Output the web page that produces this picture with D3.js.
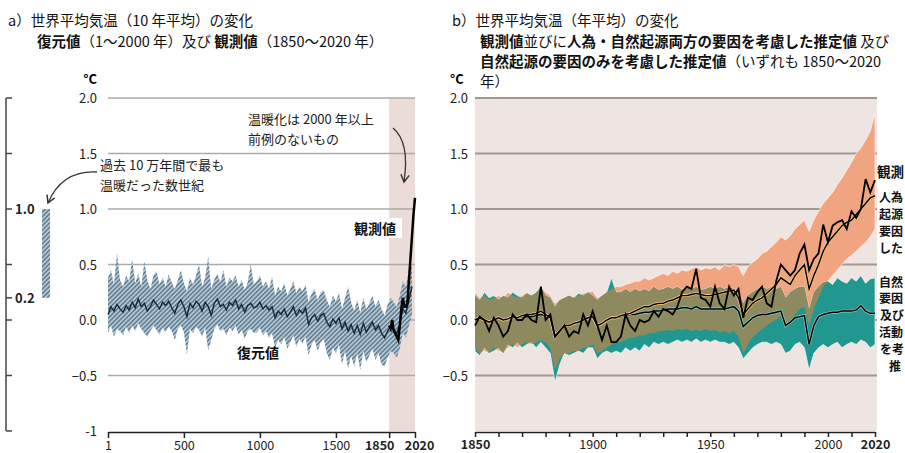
<!DOCTYPE html>
<meta charset="utf-8">
<head>
<title>世界平均気温の変化</title>
<script src="https://d3js.org/d3.v7.min.js"></script>
<style>
    body { margin: 0; background: #ffffff; }
    svg { font-family: "Noto Sans CJK JP", "Noto Sans", sans-serif; }
    .tick text { font-size: 12.5px; fill: #222; font-family: "Noto Sans CJK JP", "Noto Sans", sans-serif; }
    .tick line, .domain { stroke: #222; }
</style>
</head>
<body>
<svg id="chart" width="905" height="453"></svg>
<script>
// ---- a) 復元値 (20 年ごと, 1〜2000 年) ----
var reconYears = d3.range(0, 2001, 20).map(function(d){ return Math.max(d, 1) })
var reconMid = [
    0.05, 0.12, 0.08, 0.14, 0.10, 0.07, 0.13, 0.09, 0.16, 0.11,
    0.19, 0.12, 0.15, 0.08, 0.12, 0.18, 0.14, 0.10, 0.16, 0.13,
    0.17, 0.11, 0.06, 0.14, 0.18, 0.12, 0.03, 0.15, 0.11, 0.17,
    0.14, 0.08, 0.16, 0.12, 0.04, 0.15, 0.19, 0.12, 0.14, 0.09,
    0.16, 0.13, 0.18, 0.10, 0.14, 0.07, 0.13, 0.15, 0.11, 0.12,
    0.16, 0.10, 0.13, 0.09, 0.12, 0.02, 0.08, 0.05, 0.10, 0.03,
    0.07, 0.12, 0.04, 0.09, 0.06, 0.11, -0.04, 0.02, 0.05, -0.01,
    0.04, 0.06, -0.02, -0.06, 0.01, -0.03, 0.02, -0.08, -0.02, -0.10,
    -0.04, -0.12, -0.05, -0.13, -0.03, -0.11, -0.06, -0.02, -0.09, -0.05,
    -0.12, -0.16, -0.10, -0.06, -0.08, -0.12, -0.04, 0.10, 0.06, 0.18,
    0.30]
var reconHigh = [
    0.38, 0.45, 0.32, 0.60, 0.36, 0.30, 0.40, 0.35, 0.55, 0.33,
    0.42, 0.30, 0.53, 0.36, 0.28, 0.40, 0.44, 0.32, 0.38, 0.30,
    0.41, 0.34, 0.28, 0.36, 0.45, 0.33, 0.26, 0.38, 0.32, 0.40,
    0.50, 0.30, 0.38, 0.57, 0.28, 0.36, 0.42, 0.34, 0.45, 0.30,
    0.38, 0.35, 0.40, 0.30, 0.36, 0.27, 0.34, 0.50, 0.32, 0.35,
    0.40, 0.30, 0.35, 0.28, 0.39, 0.22, 0.30, 0.26, 0.33, 0.22,
    0.28, 0.35, 0.24, 0.30, 0.26, 0.32, 0.16, 0.24, 0.28, 0.18,
    0.25, 0.27, 0.18, 0.12, 0.22, 0.17, 0.24, 0.10, 0.20, 0.30,
    0.16, 0.08, 0.18, 0.06, 0.20, 0.10, 0.15, 0.22, 0.12, 0.18,
    0.10, 0.04, 0.14, 0.20, 0.16, 0.12, 0.22, 0.35, 0.30, 0.45,
    0.50]
var reconLow = [
    -0.12, -0.05, -0.15, -0.08, -0.10, -0.14, -0.06, -0.12, -0.05, -0.10,
    -0.03, -0.08, -0.12, -0.15, -0.10, -0.05, -0.09, -0.13, -0.07, -0.11,
    -0.06, -0.10, -0.18, -0.08, -0.05, -0.11, -0.31, -0.08, -0.12, -0.06,
    -0.09, -0.15, -0.07, -0.27, -0.18, -0.08, -0.04, -0.10, -0.08, -0.14,
    -0.07, -0.10, -0.05, -0.13, -0.09, -0.17, -0.10, -0.08, -0.12, -0.11,
    -0.07, -0.14, -0.10, -0.16, -0.12, -0.25, -0.18, -0.22, -0.15, -0.26,
    -0.20, -0.14, -0.24, -0.17, -0.21, -0.15, -0.32, -0.22, -0.18, -0.28,
    -0.20, -0.17, -0.30, -0.36, -0.25, -0.30, -0.22, -0.40, -0.28, -0.44,
    -0.32, -0.42, -0.30, -0.45, -0.28, -0.38, -0.32, -0.26, -0.36, -0.30,
    -0.40, -0.42, -0.34, -0.28, -0.30, -0.34, -0.26, -0.12, -0.16, -0.05,
    0.05]
// 観測値 (10 年平均)
var obsDecYears = d3.range(1850, 2021, 10)
var obsDec = [-0.05, -0.08, 0.00, -0.10, -0.12, -0.15, -0.18, -0.05, 0.10, 0.20,
              0.12, 0.12, 0.15, 0.35, 0.55, 0.75, 0.95, 1.10]

// ---- b) 年平均 (2 年ごと, 1850〜2020 年) ----
var annYears = d3.range(1850, 2021, 2)
var obsAnn = [
    -0.05, 0.03, 0.00, -0.10, 0.02, -0.05, -0.15, -0.10, 0.05, 0.00,
    0.00, 0.05, 0.00, -0.02, 0.30, 0.00, 0.05, -0.15, -0.10, -0.05,
    -0.15, -0.10, -0.12, 0.05, -0.05, 0.08, -0.05, -0.18, -0.05, -0.20,
    -0.20, -0.15, 0.05, -0.05, -0.10, 0.00, -0.02, 0.00, 0.08, 0.03,
    0.10, 0.08, 0.05, 0.12, 0.25, 0.30, 0.28, 0.46, 0.20, 0.18,
    0.12, 0.30, 0.15, 0.10, 0.30, 0.22, 0.28, 0.02, 0.20, 0.18,
    0.25, 0.30, 0.15, 0.12, 0.35, 0.50, 0.45, 0.40, 0.45, 0.60,
    0.68, 0.45, 0.55, 0.60, 0.86, 0.70, 0.85, 0.88, 0.90, 0.82,
    0.98, 0.92, 1.00, 1.27, 1.15, 1.26]
var bothMid = [
    0.00, 0.02, 0.00, -0.02, 0.00, 0.02, 0.00, 0.01, 0.03, 0.02,
    0.04, 0.05, 0.05, 0.06, 0.08, 0.05, 0.02, -0.15, -0.10, -0.05,
    -0.05, -0.03, -0.02, 0.00, 0.02, 0.03, -0.05, -0.03, 0.00, 0.02,
    0.02, 0.04, 0.05, 0.06, 0.08, 0.10, 0.12, 0.12, 0.14, 0.15,
    0.15, 0.17, 0.18, 0.20, 0.22, 0.22, 0.23, 0.24, 0.23, 0.22,
    0.22, 0.23, 0.24, 0.25, 0.26, 0.27, 0.20, 0.05, 0.10, 0.15,
    0.18, 0.20, 0.24, 0.28, 0.32, 0.38, 0.35, 0.32, 0.40, 0.45,
    0.50, 0.28, 0.40, 0.50, 0.62, 0.70, 0.75, 0.80, 0.85, 0.88,
    0.90, 0.95, 1.00, 1.05, 1.10, 1.12]
var bothHigh = [
    0.25, 0.20, 0.22, 0.18, 0.20, 0.22, 0.20, 0.25, 0.22, 0.20,
    0.22, 0.25, 0.22, 0.24, 0.30, 0.25, 0.22, 0.15, 0.18, 0.20,
    0.22, 0.20, 0.22, 0.24, 0.25, 0.26, 0.20, 0.22, 0.25, 0.28,
    0.30, 0.30, 0.32, 0.33, 0.35, 0.35, 0.38, 0.36, 0.38, 0.40,
    0.42, 0.40, 0.44, 0.42, 0.45, 0.44, 0.46, 0.48, 0.45, 0.47,
    0.46, 0.48, 0.45, 0.50, 0.48, 0.50, 0.48, 0.40, 0.48, 0.52,
    0.55, 0.60, 0.62, 0.66, 0.70, 0.75, 0.72, 0.76, 0.82, 0.86,
    0.90, 0.80, 0.90, 0.98, 1.05, 1.10, 1.15, 1.22, 1.28, 1.35,
    1.42, 1.50, 1.55, 1.62, 1.70, 1.86]
var bothLow = [
    -0.25, -0.30, -0.28, -0.30, -0.25, -0.28, -0.30, -0.25, -0.22, -0.25,
    -0.22, -0.20, -0.22, -0.20, -0.18, -0.20, -0.25, -0.45, -0.35, -0.30,
    -0.30, -0.28, -0.28, -0.25, -0.25, -0.22, -0.30, -0.28, -0.25, -0.22,
    -0.20, -0.20, -0.18, -0.16, -0.16, -0.14, -0.14, -0.12, -0.12, -0.10,
    -0.10, -0.09, -0.10, -0.08, -0.09, -0.08, -0.10, -0.09, -0.10, -0.08,
    -0.10, -0.09, -0.11, -0.10, -0.12, -0.10, -0.15, -0.30, -0.22, -0.15,
    -0.12, -0.08, -0.05, -0.02, 0.00, 0.04, -0.05, 0.00, 0.05, 0.10,
    0.12, -0.05, 0.10, 0.20, 0.30, 0.35, 0.40, 0.45, 0.50, 0.55,
    0.58, 0.62, 0.66, 0.70, 0.75, 0.82]
var natMid = [
    0.00, 0.02, 0.00, -0.02, 0.00, 0.02, 0.00, 0.01, 0.02, 0.02,
    0.03, 0.03, 0.03, 0.04, 0.05, 0.04, 0.02, -0.15, -0.10, -0.05,
    -0.05, -0.03, -0.02, 0.00, 0.02, 0.03, -0.06, -0.03, 0.00, 0.02,
    0.02, 0.03, 0.04, 0.05, 0.05, 0.06, 0.07, 0.07, 0.08, 0.08,
    0.09, 0.10, 0.10, 0.10, 0.11, 0.11, 0.10, 0.12, 0.10, 0.10,
    0.10, 0.10, 0.10, 0.10, 0.11, 0.12, 0.08, -0.06, -0.02, 0.02,
    0.04, 0.05, 0.05, 0.06, 0.07, 0.08, -0.05, -0.02, 0.02, 0.03,
    0.04, -0.22, -0.05, 0.03, 0.05, 0.06, 0.07, 0.07, 0.08, 0.08,
    0.08, 0.09, 0.13, 0.08, 0.06, 0.06]
var natHigh = [
    0.22, 0.18, 0.25, 0.20, 0.22, 0.18, 0.22, 0.20, 0.25, 0.22,
    0.20, 0.24, 0.22, 0.25, 0.30, 0.22, 0.20, 0.12, 0.18, 0.20,
    0.22, 0.20, 0.24, 0.22, 0.25, 0.22, 0.18, 0.22, 0.25, 0.38,
    0.25, 0.25, 0.28, 0.25, 0.28, 0.26, 0.28, 0.26, 0.30, 0.27,
    0.28, 0.30, 0.28, 0.30, 0.27, 0.30, 0.28, 0.30, 0.27, 0.28,
    0.30, 0.28, 0.30, 0.28, 0.30, 0.28, 0.25, 0.15, 0.22, 0.25,
    0.28, 0.30, 0.28, 0.30, 0.28, 0.30, 0.20, 0.25, 0.28, 0.30,
    0.30, 0.10, 0.25, 0.30, 0.34, 0.35, 0.32, 0.38, 0.35, 0.33,
    0.38, 0.35, 0.40, 0.33, 0.37, 0.38]
var natLow = [
    -0.28, -0.32, -0.25, -0.30, -0.28, -0.25, -0.30, -0.22, -0.25, -0.20,
    -0.25, -0.22, -0.20, -0.25, -0.20, -0.25, -0.30, -0.56, -0.40, -0.30,
    -0.32, -0.30, -0.28, -0.30, -0.25, -0.25, -0.35, -0.30, -0.28, -0.30,
    -0.28, -0.30, -0.25, -0.28, -0.25, -0.28, -0.22, -0.25, -0.20, -0.22,
    -0.20, -0.22, -0.20, -0.18, -0.20, -0.18, -0.20, -0.17, -0.20, -0.18,
    -0.20, -0.18, -0.20, -0.20, -0.22, -0.20, -0.25, -0.35, -0.30, -0.25,
    -0.22, -0.20, -0.20, -0.22, -0.20, -0.22, -0.30, -0.28, -0.22, -0.20,
    -0.25, -0.45, -0.30, -0.25, -0.22, -0.25, -0.22, -0.20, -0.25, -0.22,
    -0.20, -0.22, -0.18, -0.20, -0.25, -0.22]

var gridVals = [2, 1.5, 1, 0.5, 0, -0.5]

var svg = d3.select("#chart")
var defs = svg.append("defs")

// 斜線ハッチ
var pat = defs.append("pattern").attr("id", "hatch")
    .attr("patternUnits", "userSpaceOnUse")
    .attr("width", 3.2).attr("height", 3.2)
    .attr("patternTransform", "rotate(45)")
pat.append("rect").attr("width", 3.2).attr("height", 3.2).attr("fill", "#aecbde")
pat.append("line").attr("x1", 0.7).attr("y1", 0).attr("x2", 0.7).attr("y2", 3.2)
    .attr("stroke", "#56646f").attr("stroke-width", 1.2)

defs.append("marker").attr("id", "arr")
    .attr("viewBox", "0 0 10 10").attr("refX", 8).attr("refY", 5)
    .attr("markerWidth", 8).attr("markerHeight", 8).attr("orient", "auto")
  .append("path").attr("d", "M1,1 L8,5 L1,9")
    .attr("fill", "none").attr("stroke", "#333").attr("stroke-width", 1.4)

var y = d3.scaleLinear().domain([-1, 2]).range([431, 98])
var xa = d3.scaleLinear().domain([1, 2020]).range([108, 415])
var xb = d3.scaleLinear().domain([1850, 2020]).range([475, 875])

// ===== タイトル =====
var t1 = svg.append("g").style("font-size", "14.5px").style("fill", "#111")
t1.append("text").attr("x", 8).attr("y", 26).text("a）世界平均気温（10 年平均）の変化")
var l2 = t1.append("text").attr("x", 37).attr("y", 47)
l2.append("tspan").style("font-weight", "bold").text("復元値")
l2.append("tspan").text("（1〜2000 年）及び ")
l2.append("tspan").style("font-weight", "bold").text("観測値")
l2.append("tspan").text("（1850〜2020 年）")

t1.append("text").attr("x", 452).attr("y", 26).text("b）世界平均気温（年平均）の変化")
var r2 = t1.append("text").attr("x", 480).attr("y", 47)
r2.append("tspan").style("font-weight", "bold").text("観測値")
r2.append("tspan").text("並びに")
r2.append("tspan").style("font-weight", "bold").text("人為・自然起源両方の要因を考慮した推定値")
r2.append("tspan").text(" 及び")
var r3 = t1.append("text").attr("x", 480).attr("y", 67)
r3.append("tspan").style("font-weight", "bold").text("自然起源の要因のみを考慮した推定値")
r3.append("tspan").text("（いずれも 1850〜2020")
t1.append("text").attr("x", 480).attr("y", 87).text("年）")

// ===== a) パネル =====
var ga = svg.append("g")
ga.append("rect")
    .attr("x", xa(1850)).attr("y", y(2))
    .attr("width", xa(2020) - xa(1850)).attr("height", y(-1) - y(2))
    .attr("fill", "#ecdcd8")
ga.selectAll(".grid").data(gridVals).enter().append("line")
    .attr("x1", xa(1)).attr("x2", xa(2020))
    .attr("y1", function(d){ return y(d) }).attr("y2", function(d){ return y(d) })
    .attr("stroke", "#aaa").attr("stroke-width", 1.5)

var recon = reconYears.map(function(yr, i){
    return { yr: yr, mid: reconMid[i], hi: reconHigh[i], lo: reconLow[i] }
})
ga.append("path").datum(recon)
    .attr("d", d3.area()
        .x(function(d){ return xa(d.yr) })
        .y0(function(d){ return y(d.lo) })
        .y1(function(d){ return y(d.hi) }))
    .attr("fill", "url(#hatch)")
ga.append("path").datum(recon)
    .attr("d", d3.line()
        .x(function(d){ return xa(d.yr) })
        .y(function(d){ return y(d.mid) }))
    .attr("fill", "none").attr("stroke", "#16283a").attr("stroke-width", 1.4)

ga.append("path").datum(obsDecYears.map(function(yr, i){ return [yr, obsDec[i]] }))
    .attr("d", d3.line()
        .x(function(d){ return xa(d[0]) })
        .y(function(d){ return y(d[1]) }))
    .attr("fill", "none").attr("stroke", "#000").attr("stroke-width", 2.5)

// y 軸ラベル
ga.selectAll(".yl").data([2, 1.5, 1, 0.5, 0, -0.5, -1]).enter().append("text")
    .attr("x", 97).attr("y", function(d){ return y(d) + 5 })
    .attr("text-anchor", "end").style("font-size", "13px").style("fill", "#222")
    .text(function(d){ return d === -1 ? "-1" : d3.format(".1f")(d) })
ga.append("text").attr("x", 97).attr("y", 84).attr("text-anchor", "end")
    .style("font-size", "13px").style("font-weight", "bold").text("°C")

var axA = ga.append("g").attr("transform", "translate(0,432)")
    .call(d3.axisBottom(xa).tickValues([1, 500, 1000, 1500, 1850, 2020])
        .tickSize(6).tickSizeOuter(0).tickFormat(d3.format("d")))
axA.selectAll("line, path").attr("stroke-width", 1.5)
axA.selectAll("text")
    .style("font-weight", function(d){ return d >= 1850 ? "bold" : "normal" })
    .attr("dx", function(d){ return d === 1850 ? -10 : (d === 2020 ? 4 : 0) })

// 左端の目盛り
var gl = svg.append("g")
gl.append("line").attr("x1", 6).attr("x2", 6).attr("y1", y(2)).attr("y2", y(-1))
    .attr("stroke", "#444").attr("stroke-width", 1.5)
gl.selectAll(".bt").data([2, 1.5, 1, 0.5, 0.2, 0, -0.5, -1]).enter().append("line")
    .attr("x1", 6).attr("x2", 12)
    .attr("y1", function(d){ return y(d) }).attr("y2", function(d){ return y(d) })
    .attr("stroke", "#444").attr("stroke-width", 1.5)
gl.selectAll(".bl").data([1.0, 0.2]).enter().append("text")
    .attr("x", 15).attr("y", function(d){ return y(d) + 5 })
    .style("font-size", "13px").style("font-weight", "bold").style("fill", "#222")
    .text(function(d){ return d3.format(".1f")(d) })
gl.append("rect").attr("x", 42).attr("width", 8)
    .attr("y", y(1.0)).attr("height", y(0.2) - y(1.0))
    .attr("fill", "url(#hatch)")

// 注記
var note = svg.append("g").style("font-size", "13px").style("fill", "#222")
note.append("text").attr("x", 100).attr("y", 170).text("過去 10 万年間で最も")
note.append("text").attr("x", 100).attr("y", 190).text("温暖だった数世紀")
note.append("path").attr("d", "M97,172 Q62,170 48,203")
    .attr("fill", "none").attr("stroke", "#333").attr("stroke-width", 1.3)
    .attr("marker-end", "url(#arr)")
note.append("text").attr("x", 248).attr("y", 124).text("温暖化は 2000 年以上")
note.append("text").attr("x", 248).attr("y", 144).text("前例のないもの")
note.append("path").attr("d", "M393,128 Q410,142 404,182")
    .attr("fill", "none").attr("stroke", "#333").attr("stroke-width", 1.3)
    .attr("marker-end", "url(#arr)")
note.append("rect").attr("x", 352).attr("y", 218).attr("width", 50).attr("height", 20).attr("fill", "#fff")
note.append("text").attr("x", 354).attr("y", 234).style("font-size", "14px")
    .style("font-weight", "bold").style("fill", "#111").text("観測値")
note.append("text").attr("x", 237).attr("y", 358).style("font-size", "14px")
    .style("font-weight", "bold").style("fill", "#111").text("復元値")

// ===== b) パネル =====
var gb = svg.append("g")
gb.append("rect").attr("x", xb(1850)).attr("y", y(2))
    .attr("width", xb(2020) - xb(1850) + 2).attr("height", y(-1) - y(2))
    .attr("fill", "#eee4e2")
gb.selectAll(".grid").data(gridVals).enter().append("line")
    .attr("x1", xb(1850)).attr("x2", xb(2020) + 2)
    .attr("y1", function(d){ return y(d) }).attr("y2", function(d){ return y(d) })
    .attr("stroke", "#a39591").attr("stroke-width", 2)

var ann = annYears.map(function(yr, i){
    return { yr: yr, obs: obsAnn[i], bm: bothMid[i], bh: bothHigh[i], bl: bothLow[i],
             nm: natMid[i], nh: natHigh[i], nl: natLow[i] }
})
var bothArea = d3.area()
    .x(function(d){ return xb(d.yr) })
    .y0(function(d){ return y(d.bl) })
    .y1(function(d){ return y(d.bh) })
var natArea = d3.area()
    .x(function(d){ return xb(d.yr) })
    .y0(function(d){ return y(d.nl) })
    .y1(function(d){ return y(d.nh) })

defs.append("clipPath").attr("id", "bothClip")
  .append("path").attr("d", bothArea(ann))

gb.append("path").attr("d", bothArea(ann))
    .attr("fill", "#f0a47f").attr("stroke", "#fff").attr("stroke-width", 1).attr("stroke-opacity", 0.6)
gb.append("path").attr("d", natArea(ann))
    .attr("fill", "#22978f").attr("stroke", "#fff").attr("stroke-width", 1).attr("stroke-opacity", 0.6)
gb.append("path").attr("d", natArea(ann))
    .attr("clip-path", "url(#bothClip)")
    .attr("fill", "#8e8a60")

function lineOf(key) {
    return d3.line().x(function(d){ return xb(d.yr) }).y(function(d){ return y(d[key]) })
}
gb.append("path").attr("d", lineOf("nm")(ann)).attr("fill", "none")
    .attr("stroke", "#8fcfc2").attr("stroke-width", 2.8)
gb.append("path").attr("d", lineOf("nm")(ann)).attr("fill", "none")
    .attr("stroke", "#000").attr("stroke-width", 1.5)
gb.append("path").attr("d", lineOf("bm")(ann)).attr("fill", "none")
    .attr("stroke", "#f3c074").attr("stroke-width", 3)
gb.append("path").attr("d", lineOf("bm")(ann)).attr("fill", "none")
    .attr("stroke", "#000").attr("stroke-width", 1.4)
gb.append("path").attr("d", lineOf("obs")(ann)).attr("fill", "none")
    .attr("stroke", "#000").attr("stroke-width", 1.8)

gb.selectAll(".yl").data([2, 1.5, 1, 0.5, 0, -0.5]).enter().append("text")
    .attr("x", 468).attr("y", function(d){ return y(d) + 5 })
    .attr("text-anchor", "end").style("font-size", "13px").style("fill", "#222")
    .text(function(d){ return d3.format(".1f")(d) })
gb.append("text").attr("x", 450).attr("y", 84)
    .style("font-size", "13px").style("font-weight", "bold").text("°C")

var labelled = [1850, 1900, 1950, 2000, 2020]
var axB = gb.append("g").attr("transform", "translate(0,432)")
    .call(d3.axisBottom(xb).tickValues(d3.range(1850, 2021, 10))
        .tickSize(5).tickSizeOuter(0)
        .tickFormat(function(d){ return labelled.indexOf(d) >= 0 ? d : "" }))
axB.selectAll("line, path").attr("stroke-width", 1.5)
axB.selectAll("text").style("font-weight", function(d){ return (d === 1850 || d === 2020) ? "bold" : "normal" })

// 右端の凡例（元図では画面端で切れている部分まで）
var leg = svg.append("g").style("font-weight", "bold").style("fill", "#111")
leg.append("text").attr("x", 877).attr("y", 177).style("font-size", "13.5px").text("観測")
var legA = [["人為", 879, 202], ["起源", 879, 219], ["要因", 879, 236], ["した", 879, 253]]
var legN = [["自然", 879, 287], ["要因", 879, 303], ["及び", 880, 320],
            ["活動", 879, 337], ["を考", 880, 354], ["推", 889, 371]]
leg.selectAll(".la").data(legA.concat(legN)).enter().append("text")
    .attr("x", function(d){ return d[1] }).attr("y", function(d){ return d[2] })
    .style("font-size", "12px")
    .text(function(d){ return d[0] })
</script>
</body>
